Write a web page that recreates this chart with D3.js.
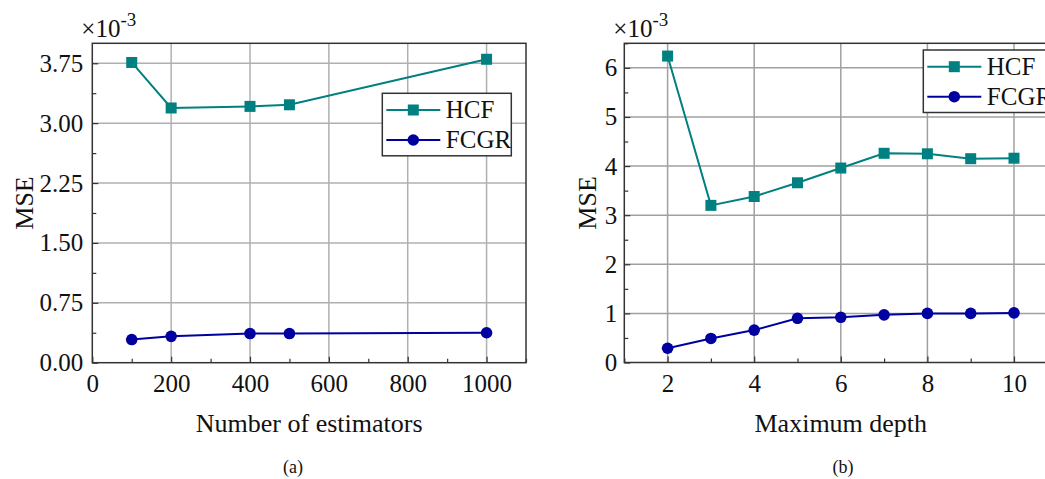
<!DOCTYPE html>
<html>
<head>
<meta charset="utf-8">
<script src="https://cdn.jsdelivr.net/npm/d3@7"></script>
<style>
  html, body { margin: 0; padding: 0; background: #fff; }
  svg { display: block; }
  svg text { font-family: "Liberation Serif", "Times New Roman", Times, serif !important; fill: #111; }
</style>
</head>
<body>
<svg id="chart" width="1045" height="479"></svg>
<script>
// ---- Data (a) ----
const estimators = [100, 200, 400, 500, 1000];
const hcfEstimators = [3.76, 3.19, 3.21, 3.23, 3.80];
const fcgrEstimators = [0.29, 0.33, 0.365, 0.365, 0.375];
const xTicksA = [0, 200, 400, 600, 800, 1000];
const yTicksA = [0, 0.75, 1.5, 2.25, 3.0, 3.75];

// ---- Data (b) ----
const depths = [2, 3, 4, 5, 6, 7, 8, 9, 10];
const hcfDepth = [6.24, 3.20, 3.38, 3.66, 3.96, 4.26, 4.25, 4.15, 4.16];
const fcgrDepth = [0.29, 0.49, 0.66, 0.90, 0.92, 0.97, 1.00, 1.00, 1.01];
const xTicksB = [2, 4, 6, 8, 10];
const yTicksB = [0, 1, 2, 3, 4, 5, 6];

const seriesNames = ["HCF", "FCGR"];
const colors = { HCF: "#008080", FCGR: "#0000a0" };
const SERIF = '"Liberation Serif", "Times New Roman", Times, serif';

const svg = d3.select("#chart").style("font-family", SERIF);

function drawPanel(cfg) {
  const g = svg.append("g");
  const x = d3.scaleLinear().domain(cfg.xDomain).range([cfg.left, cfg.right]);
  const y = d3.scaleLinear().domain(cfg.yDomain).range([cfg.bottom, cfg.top]);

  const clipId = "clip-" + cfg.id;
  svg.append("clipPath").attr("id", clipId).append("rect")
    .attr("x", cfg.left).attr("y", cfg.top - 10)
    .attr("width", cfg.right - cfg.left + 10).attr("height", cfg.bottom - cfg.top + 20);

  // grid
  g.append("g").selectAll("line").data(cfg.xTicks.filter(d => d > cfg.xDomain[0]))
    .join("line")
    .attr("x1", d => x(d)).attr("x2", d => x(d))
    .attr("y1", cfg.top).attr("y2", cfg.bottom)
    .attr("stroke", cfg.gridColor).attr("stroke-width", 1.5);
  g.append("g").selectAll("line").data(cfg.yTicks.filter(d => d > cfg.yDomain[0]))
    .join("line")
    .attr("x1", cfg.left).attr("x2", cfg.right)
    .attr("y1", d => y(d)).attr("y2", d => y(d))
    .attr("stroke", cfg.gridColor).attr("stroke-width", 1.5);

  // axes with inward ticks
  const xAxis = d3.axisBottom(x).tickValues(cfg.xTicks).tickSize(-6).tickPadding(12)
    .tickFormat(cfg.xFormat);
  const xMinor = d3.axisBottom(x).tickValues(cfg.xMinor).tickSize(-4).tickFormat("");
  const yAxis = d3.axisLeft(y).tickValues(cfg.yTicks).tickSize(-6).tickPadding(cfg.yPad)
    .tickFormat(cfg.yFormat);
  const yMinor = d3.axisLeft(y).tickValues(cfg.yMinor).tickSize(-4).tickFormat("");

  const gx = g.append("g").attr("transform", `translate(0,${cfg.bottom})`).call(xAxis);
  g.append("g").attr("transform", `translate(0,${cfg.bottom})`).call(xMinor);
  const gy = g.append("g").attr("transform", `translate(${cfg.left},0)`).call(yAxis);
  g.append("g").attr("transform", `translate(${cfg.left},0)`).call(yMinor);
  g.selectAll(".domain").remove();
  g.selectAll("g").attr("font-family", null);
  g.selectAll(".tick line").attr("stroke", "#333").attr("stroke-width", 1.2);
  [gx, gy].forEach(a => a.selectAll(".tick text")
    .style("font-family", SERIF).style("font-size", "25px").attr("fill", "#111"));

  // frame
  g.append("rect")
    .attr("x", cfg.left).attr("y", cfg.top)
    .attr("width", cfg.right - cfg.left).attr("height", cfg.bottom - cfg.top)
    .attr("fill", "none").attr("stroke", "#333").attr("stroke-width", 1.5);

  // series
  const series = [
    { name: "HCF", xs: cfg.xs, ys: cfg.hcf, marker: "square" },
    { name: "FCGR", xs: cfg.xs, ys: cfg.fcgr, marker: "circle" }
  ];
  const line = d3.line().x(d => x(d[0])).y(d => y(d[1]));
  series.forEach(s => {
    const pts = s.xs.map((v, i) => [v, s.ys[i]]);
    const sg = g.append("g").attr("clip-path", `url(#${clipId})`);
    sg.append("path").attr("d", line(pts)).attr("fill", "none")
      .attr("stroke", colors[s.name]).attr("stroke-width", 2);
    if (s.marker === "square") {
      sg.selectAll("rect").data(pts).join("rect")
        .attr("x", d => x(d[0]) - 5.5).attr("y", d => y(d[1]) - 5.5)
        .attr("width", 11).attr("height", 11).attr("fill", colors[s.name]);
    } else {
      sg.selectAll("circle").data(pts).join("circle")
        .attr("cx", d => x(d[0])).attr("cy", d => y(d[1]))
        .attr("r", 5.8).attr("fill", colors[s.name]);
    }
  });

  // legend
  const lg = g.append("g").attr("transform", `translate(${cfg.legX},${cfg.legY})`);
  lg.append("rect").attr("width", 129).attr("height", 62.5)
    .attr("fill", "#fff").attr("stroke", "#333").attr("stroke-width", 1.5);
  seriesNames.forEach((n, i) => {
    const ry = 16.7 + i * 30;
    lg.append("line").attr("x1", 4).attr("x2", 58).attr("y1", ry).attr("y2", ry)
      .attr("stroke", colors[n]).attr("stroke-width", 2);
    if (n === "HCF") {
      lg.append("rect").attr("x", 31 - 5.5).attr("y", ry - 5.5).attr("width", 11).attr("height", 11)
        .attr("fill", colors[n]);
    } else {
      lg.append("circle").attr("cx", 31).attr("cy", ry).attr("r", 5.8).attr("fill", colors[n]);
    }
    lg.append("text").attr("x", 63.5).attr("y", ry + 8.5).style("font-size", "25px").text(n);
  });

  // multiplier label
  const mt = g.append("text").attr("x", cfg.left - 11).attr("y", 37).style("font-size", "25px");
  mt.append("tspan").text("\u00d710");
  mt.append("tspan").attr("dy", -11).style("font-size", "19px").text("-3");

  // y title
  g.append("text")
    .attr("transform", `translate(${cfg.yTitleX},${(cfg.top + cfg.bottom) / 2}) rotate(-90)`)
    .attr("text-anchor", "middle").style("font-size", "26px").text("MSE");

  // x title
  g.append("text").attr("x", (cfg.left + cfg.right) / 2).attr("y", 431.5)
    .attr("text-anchor", "middle").style("font-size", "26px").text(cfg.xTitle);

  // panel label
  g.append("text").attr("x", cfg.labelX).attr("y", 473)
    .attr("text-anchor", "middle").style("font-size", "18px").text(cfg.label);
}

drawPanel({
  id: "a",
  left: 92.3, right: 526, top: 43.3, bottom: 362.7,
  xDomain: [0, 1100], yDomain: [0, 4.0],
  xTicks: xTicksA, xMinor: [100, 300, 500, 700, 900, 1100],
  yTicks: yTicksA, yMinor: [0.375, 1.125, 1.875, 2.625, 3.375],
  xFormat: d3.format("d"), yFormat: d3.format(".2f"), yPad: 9,
  xs: estimators, hcf: hcfEstimators, fcgr: fcgrEstimators,
  legX: 382.3, legY: 93.3, gridColor: "#b0b0b0",
  yTitleX: 33, xTitle: "Number of estimators", label: "(a)", labelX: 293
});

drawPanel({
  id: "b",
  left: 624.3, right: 1057.3, top: 43.3, bottom: 362.5,
  xDomain: [1, 11], yDomain: [0, 6.5],
  xTicks: xTicksB, xMinor: [1, 3, 5, 7, 9, 11],
  yTicks: yTicksB, yMinor: [0.5, 1.5, 2.5, 3.5, 4.5, 5.5, 6.5],
  xFormat: d3.format("d"), yFormat: d3.format("d"), yPad: 7,
  xs: depths, hcf: hcfDepth, fcgr: fcgrDepth,
  legX: 923.3, legY: 50, gridColor: "#a0a0a0",
  yTitleX: 596, xTitle: "Maximum depth", label: "(b)", labelX: 843
});
</script>
</body>
</html>
